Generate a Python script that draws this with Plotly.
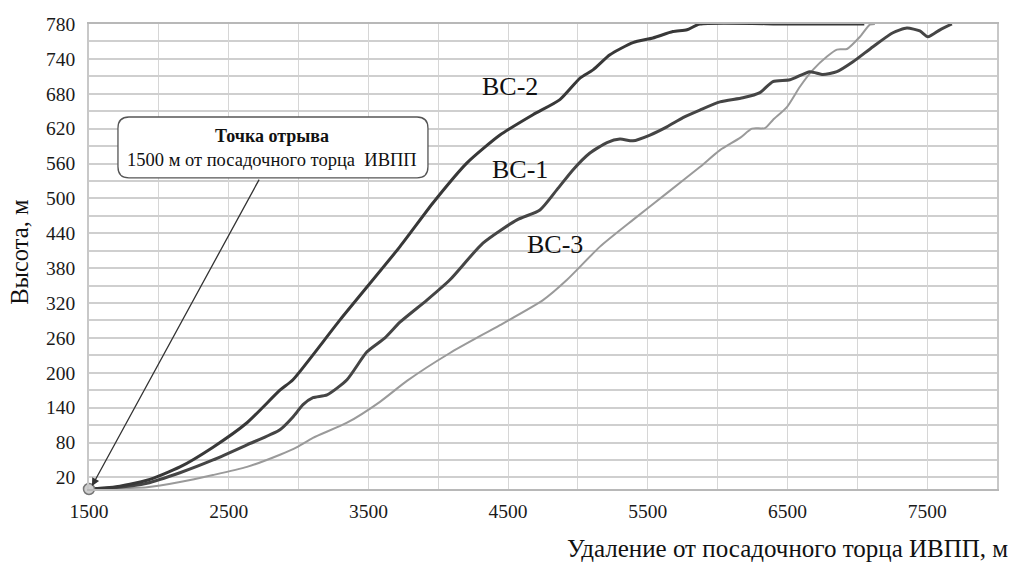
import plotly.graph_objects as go

# ---- data ----
bc2_x = [1500, 1672, 1915, 2151, 2388, 2631, 2867, 2960, 3297, 3726, 3962, 4206, 4442, 4678,
         4871, 5015, 5108, 5229, 5394, 5537, 5680, 5781, 5873, 6500, 7050]
bc2_y = [0, 3, 15, 38, 72, 114, 170, 188, 291, 417, 492, 561, 609, 644,
         670, 707, 721, 747, 768, 776, 787, 790, 800, 800, 800]

bc1_x = [1500, 1672, 1915, 2151, 2388, 2631, 2867, 2960, 3032, 3103, 3204, 3347, 3490, 3619,
         3726, 3919, 4084, 4320, 4564, 4728, 4850, 4964, 5086, 5208, 5301, 5394, 5516, 5637,
         5752, 5873, 6017, 6181, 6303, 6396, 6518, 6661, 6754, 6854, 6969, 7112, 7255, 7355,
         7448, 7506, 7592, 7677]
bc1_y = [0, 2, 10, 28, 50, 76, 102, 124, 145, 157, 162, 188, 236, 260,
         287, 325, 360, 423, 463, 480, 515, 549, 578, 596, 602, 599, 609, 623,
         639, 652, 666, 673, 682, 701, 704, 718, 713, 718, 735, 761, 785, 793,
         788, 778, 790, 800]

bc3_x = [1500, 1672, 1915, 2151, 2388, 2631, 2867, 2989, 3103, 3347, 3583, 3776, 4084, 4442,
         4750, 4922, 5158, 5394, 5637, 5873, 6017, 6160, 6246, 6339, 6396, 6496, 6589, 6682,
         6783, 6854, 6926, 7019, 7090, 7126]
bc3_y = [0, 1, 3, 12, 24, 38, 59, 72, 88, 114, 150, 186, 234, 282,
         325, 360, 417, 463, 509, 554, 583, 604, 620, 621, 635, 657, 692, 721,
         744, 756, 757, 778, 799, 800]

x_tickvals = [1500, 2500, 3500, 4500, 5500, 6500, 7500]
y_tickvals = [20, 80, 140, 200, 260, 320, 380, 440, 500, 560, 620, 680, 740, 800]
y_ticktext = ["20", "80", "140", "200", "260", "320", "380", "440", "500", "560", "620",
              "680", "740", "780"]

series_labels = ["ВС-2", "ВС-1", "ВС-3"]
label_x = [4514, 4585, 4836]
label_y = [692, 549, 420]

FONT = "Liberation Serif, Times New Roman, serif"

fig = go.Figure()
fig.add_trace(go.Scatter(x=bc3_x, y=bc3_y, mode="lines",
                         line=dict(color="#9a9a9a", width=2, shape="spline", smoothing=0.6),
                         showlegend=False, hoverinfo="skip"))
fig.add_trace(go.Scatter(x=bc1_x, y=bc1_y, mode="lines",
                         line=dict(color="#454545", width=3, shape="spline", smoothing=0.6),
                         showlegend=False, hoverinfo="skip"))
fig.add_trace(go.Scatter(x=bc2_x, y=bc2_y, mode="lines",
                         line=dict(color="#383838", width=3, shape="spline", smoothing=0.6),
                         showlegend=False, hoverinfo="skip"))
fig.add_trace(go.Scatter(x=[1500], y=[0], mode="markers",
                         marker=dict(size=11, color="#cfcfcf", line=dict(color="#777777", width=1.5)),
                         cliponaxis=False, showlegend=False, hoverinfo="skip"))

for t, lx, ly in zip(series_labels, label_x, label_y):
    fig.add_annotation(x=lx, y=ly, text=t, showarrow=False, xanchor="center", yanchor="middle",
                       font=dict(family=FONT, size=26, color="#111"))

# callout box (rounded) in paper coordinates
x0, x1, y0, y1 = 0.0319, 0.3733, 0.669, 0.800
rx, ry = 0.012, 0.024
path = (f"M {x0+rx},{y0} L {x1-rx},{y0} Q {x1},{y0} {x1},{y0+ry} L {x1},{y1-ry} "
        f"Q {x1},{y1} {x1-rx},{y1} L {x0+rx},{y1} Q {x0},{y1} {x0},{y1-ry} "
        f"L {x0},{y0+ry} Q {x0},{y0} {x0+rx},{y0} Z")
fig.add_shape(type="path", path=path, xref="paper", yref="paper",
              line=dict(color="#555555", width=1.3), fillcolor="white", layer="above")
fig.add_annotation(xref="paper", yref="paper", x=0.2015, y=0.759, xanchor="center", yanchor="middle",
                   text="<b>Точка отрыва</b>",
                   showarrow=False, font=dict(family=FONT, size=18, color="#111"))
fig.add_annotation(xref="paper", yref="paper", x=0.2015, y=0.7075, xanchor="center", yanchor="middle",
                   text="1500 м от посадочного торца  ИВПП",
                   showarrow=False, font=dict(family=FONT, size=18.5, color="#111"))
# arrow from box to take-off point
fig.add_annotation(x=1521, y=5, text="", showarrow=True, ax=168, ay=-308,
                   arrowhead=2, arrowsize=1.2, arrowwidth=1.3, arrowcolor="#333333")

# axis titles
fig.add_annotation(xref="paper", yref="paper", x=1.0143, y=-0.127, xanchor="right", yanchor="middle",
                   text="Удаление от посадочного торца ИВПП, м", showarrow=False,
                   font=dict(family=FONT, size=25, color="#111"))
fig.add_annotation(xref="paper", yref="paper", x=-0.076, y=0.51, textangle=-90,
                   xanchor="center", yanchor="middle",
                   text="Высота, м", showarrow=False,
                   font=dict(family=FONT, size=24.5, color="#111"))

fig.update_layout(
    width=1014, height=566,
    margin=dict(l=89, r=17, t=24, b=77),
    paper_bgcolor="white", plot_bgcolor="white",
    font=dict(family=FONT, size=19.5, color="#1a1a1a"),
    xaxis=dict(range=[1500, 8000], tickvals=x_tickvals, showgrid=True, gridcolor="#d6d6d6",
               gridwidth=1.2, zeroline=False, showline=True, linecolor="#b8b8b8", linewidth=2,
               mirror=True, ticks="", ticklabelstandoff=4,
               minor=dict(tickvals=[2000, 3000, 4000, 5000, 6000, 7000], showgrid=True,
                          gridcolor="#d6d6d6", gridwidth=1.2)),
    yaxis=dict(range=[0, 800], tickvals=y_tickvals, ticktext=y_ticktext, showgrid=True,
               gridcolor="#cfcfcf", gridwidth=1.6, zeroline=False, showline=True,
               linecolor="#c8c8c8", linewidth=1.5, mirror=True, ticks="", ticklabelstandoff=8,
               minor=dict(tick0=50, dtick=60, showgrid=True, gridcolor="#cfcfcf", gridwidth=1.6)),
)

fig.write_html("out.html")
